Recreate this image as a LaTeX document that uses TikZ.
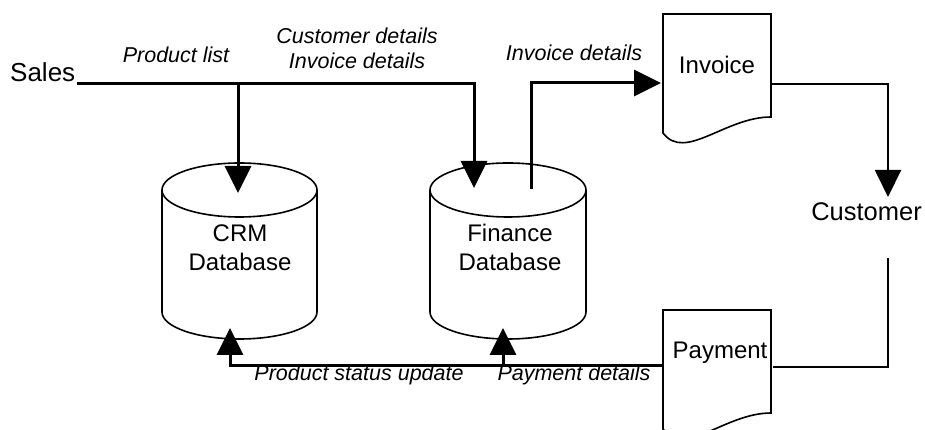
\documentclass[tikz,border=0pt]{standalone}
\usepackage{fontspec}
\setmainfont{Liberation Sans}
\usetikzlibrary{arrows.meta,positioning}
\tikzset{
  outline/.style={line width=1.6pt},
  flowline/.style={line width=3pt},
  flow/.style={line width=3pt,-{Triangle[length=27pt,width=26pt]}},
  thinflow/.style={line width=2pt,-{Triangle[length=27pt,width=26pt]}},
  thinline/.style={line width=2pt},
  lbl/.style={font=\fontsize{21.5}{25}\selectfont\itshape,align=center,inner sep=0pt},
  txt/.style={font=\fontsize{24}{29}\selectfont,align=center,inner sep=0pt}
}
\begin{document}
\begin{tikzpicture}[x=1pt,y=1pt]
    \useasboundingbox (0,0) rectangle (925,430);
    % databases
    \draw[outline] (162,240) -- (162,118) arc[start angle=180,end angle=360,x radius=77.5,y radius=27] -- (317,240);
    \draw[outline] (239.5,240) ellipse[x radius=77.5,y radius=27];
    \draw[outline] (430,240) -- (430,118) arc[start angle=180,end angle=360,x radius=78,y radius=27] -- (586,240);
    \draw[outline] (508,240) ellipse[x radius=78,y radius=27];
    \node[txt] (crm) at (240,182.5) {CRM\\Database};
    \node[txt] (finance) at (510,182.5) {Finance\\Database};
    % documents
    \draw[outline] (663,416) -- (771,416) -- (771,313) .. controls (725,313) and (685,268) .. (663,297) -- cycle;
    \draw[outline] (663,120) -- (771,120) -- (771,17) .. controls (725,17) and (685,-28) .. (663,1) -- cycle;
    \node[txt] (invoice) at (717,365) {Invoice};
    \node[txt] (payment) at (720,77) {Payment};
    % sources and sinks
    \node[txt,font=\fontsize{26}{30}\selectfont,anchor=base west] (sales) at (10,348) {Sales};
    \node[txt,font=\fontsize{25.5}{30}\selectfont,anchor=east] (customer) at (922,218) {Customer};
    % connector ends
    \coordinate (crmin) at (238,237);
    \coordinate (finin) at (474,242);
    \coordinate (finout) at (531,241);
    \coordinate (split) at (238,346);
    \coordinate (invin) at (661,347);
    \coordinate (invout) at (771,346);
    \coordinate (custin) at (888,233);
    \coordinate (custout) at (888,172);
    \coordinate (payin) at (773,63);
    \coordinate (payout) at (663,64);
    \coordinate (crmup) at (230,102);
    \coordinate (finup) at (503,102);
    \coordinate (finsplit) at (503,64);
    % flows
    \draw[flow] ([xshift=2pt,yshift=-2pt]sales.base east) -| (finin);
    \draw[flow] (split) -- (crmin);
    \draw[flow] (finout) |- (invin);
    \draw[thinflow] (invout) -| (custin);
    \draw[thinline] (custout) |- (payin);
    \draw[flow] (payout) -| (crmup);
    \draw[flow] (finsplit) -- (finup);
    % labels
    \node[lbl] (plist) at (176,375) {Product list};
    \node[lbl] (cdetails) at (357,382) {Customer details\\Invoice details};
    \node[lbl] (idetails) at (574,377) {Invoice details};
    \node[lbl] (pstatus) at (359,55) {Product status update};
    \node[lbl] (pdetails) at (574,55) {Payment details};
\end{tikzpicture}
\end{document}
